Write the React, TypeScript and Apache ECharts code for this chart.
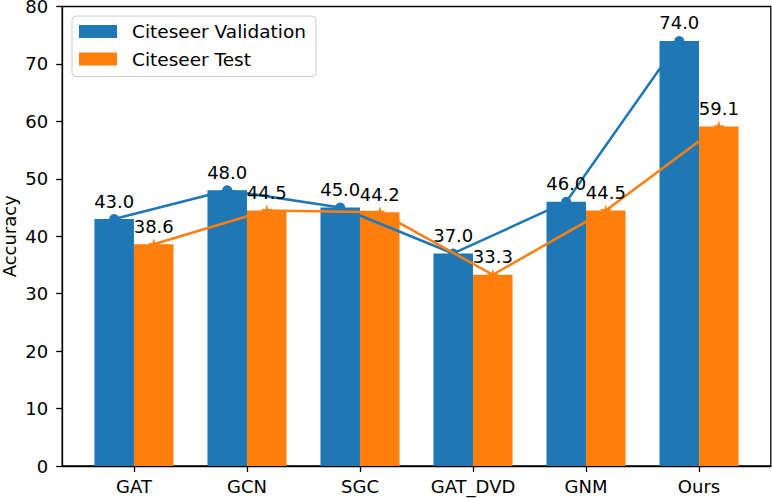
import React, { useEffect, useRef } from "react";
import * as echarts from "echarts";

const categories = ["GAT", "GCN", "SGC", "GAT_DVD", "GNM", "Ours"];
const validation = [43.0, 48.0, 45.0, 37.0, 46.0, 74.0];
const test = [38.6, 44.5, 44.2, 33.3, 44.5, 59.1];
const yTicks = [0, 10, 20, 30, 40, 50, 60, 70, 80];

const BLUE = "#1f77b4";
const ORANGE = "#ff7f0e";
const FONT = "DejaVu Sans";
const FS = 18;
const HALF = 0.175;

function starPath(): string {
  const pts: string[] = [];
  for (let k = 0; k < 10; k++) {
    const r = k % 2 === 0 ? 50 : 19;
    const a = -Math.PI / 2 + (k * Math.PI) / 5;
    pts.push(`${(50 + r * Math.cos(a)).toFixed(2)} ${(50 + r * Math.sin(a)).toFixed(2)}`);
  }
  return "path://M" + pts.join(" L") + " Z";
}

export default function App() {
  const ref = useRef<HTMLDivElement>(null);
  useEffect(() => {
    document.body.style.margin = "0";
    const chart = echarts.init(ref.current!, null, { renderer: "svg" });
    const valData = validation.map((v, i) => [i - HALF, v]);
    const testData = test.map((v, i) => [i + HALF, v]);
    const idx = categories.map((_, i) => i);
    const labelFmt = (p: any) => Number(p.value[1]).toFixed(1);
    chart.setOption({
      animation: false,
      textStyle: { fontFamily: FONT },
      grid: {
        left: 62.2,
        right: 1.2,
        top: 6.5,
        bottom: 32,
        containLabel: false,
        outerBoundsMode: "none",
        show: true,
        borderColor: "#000",
        borderWidth: 1.3,
        backgroundColor: "transparent",
      },
      legend: {
        orient: "vertical",
        left: 72,
        top: 16,
        data: [
          { name: "Citeseer Validation", icon: "rect" },
          { name: "Citeseer Test", icon: "rect" },
        ],
        itemWidth: 38,
        itemHeight: 13,
        itemGap: 7.5,
        padding: [5.5, 10, 7.5, 7],
        backgroundColor: "rgba(255,255,255,0.8)",
        borderColor: "#cccccc",
        borderWidth: 1,
        borderRadius: 4,
        textStyle: {
          fontFamily: FONT,
          fontSize: 18.5,
          color: "#000",
          lineHeight: 20,
          padding: [0, 0, 0, 10],
        },
      },
      xAxis: {
        type: "value",
        min: -0.635,
        max: 5.635,
        splitLine: { show: false },
        axisLine: { show: true, onZero: false, lineStyle: { color: "#000", width: 1.3 } },
        axisTick: {
          show: true,
          customValues: idx,
          length: 6,
          lineStyle: { color: "#000", width: 1.3 },
        },
        axisLabel: {
          customValues: idx,
          formatter: (v: number) => categories[Math.round(v)] ?? "",
          fontFamily: FONT,
          fontSize: FS,
          color: "#000",
          margin: 11,
        },
      },
      yAxis: {
        type: "value",
        min: yTicks[0],
        max: yTicks[yTicks.length - 1],
        interval: 10,
        name: "Accuracy",
        nameLocation: "middle",
        nameGap: 44,
        nameRotate: 90,
        nameMoveOverlap: false,
        nameTextStyle: { fontFamily: FONT, fontSize: FS, color: "#000" },
        splitLine: { show: false },
        axisLine: { show: true, onZero: false, lineStyle: { color: "#000", width: 1.3 } },
        axisTick: { show: true, length: 6, lineStyle: { color: "#000", width: 1.3 } },
        axisLabel: { fontFamily: FONT, fontSize: FS, color: "#000", margin: 14 },
      },
      series: [
        {
          name: "Citeseer Validation",
          type: "bar",
          data: valData,
          barWidth: 39.5,
          barGap: "-100%",
          itemStyle: { color: BLUE },
          z: 2,
        },
        {
          name: "Citeseer Test",
          type: "bar",
          data: testData,
          barWidth: 39.5,
          barGap: "-100%",
          itemStyle: { color: ORANGE },
          z: 2,
        },
        {
          name: "val-line",
          type: "line",
          data: valData,
          symbol: "circle",
          symbolSize: 10,
          itemStyle: { color: BLUE },
          lineStyle: { color: BLUE, width: 2.5 },
          z: 5,
          label: {
            show: true,
            position: "top",
            distance: 4,
            formatter: labelFmt,
            fontFamily: FONT,
            fontSize: FS,
            color: "#000",
          },
        },
        {
          name: "test-line",
          type: "line",
          data: testData,
          symbol: starPath(),
          symbolSize: 12,
          itemStyle: { color: ORANGE },
          lineStyle: { color: ORANGE, width: 2.5 },
          z: 6,
          label: {
            show: true,
            position: "top",
            distance: 3,
            formatter: labelFmt,
            fontFamily: FONT,
            fontSize: FS,
            color: "#000",
          },
        },
      ],
    });
    return () => chart.dispose();
  }, []);
  return <div ref={ref} style={{ width: 772, height: 498 }} />;
}
